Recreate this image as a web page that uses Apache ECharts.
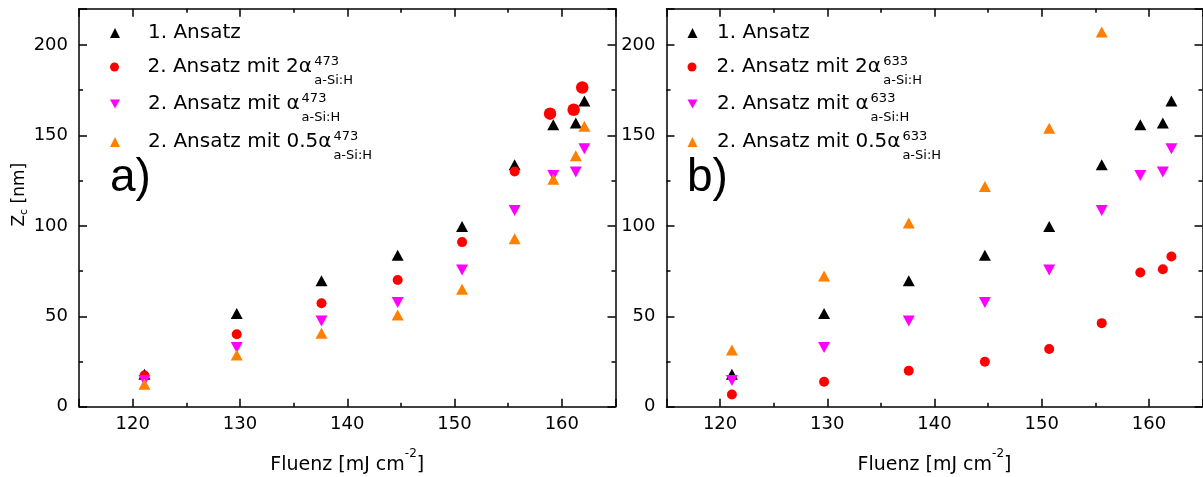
<!DOCTYPE html>
<html><head><meta charset="utf-8">
<script src="https://cdn.jsdelivr.net/npm/echarts@6/dist/echarts.min.js"></script>
<style>html,body{margin:0;padding:0;background:#fff}#c{width:1203px;height:477px}</style>
</head><body><div id="c"></div>
<script>
// ---------- data ----------
const fluenz = [121.1, 129.7, 137.6, 144.7, 150.7, 155.6, 159.2, 161.3, 162.1];
const fluenzRed473 = [121.1, 129.7, 137.6, 144.7, 150.7, 155.6, 158.9, 161.1, 161.9];
const ansatz1 = [18, 51.5, 69.6, 83.7, 99.6, 133.8, 155.9, 156.8, 169];
const alpha1 = [14.5, 32.7, 47.4, 57.6, 75.6, 108.5, 127.8, 129.7, 142.6];
const alpha2_473 = [17.2, 40.1, 57.2, 70.1, 91, 130, 162, 164.2, 176.5];
const alpha05_473 = [12.4, 28.6, 40.6, 50.7, 65, 92.8, 125.8, 138.7, 155];
const alpha2_633 = [6.7, 13.8, 19.9, 24.9, 31.9, 46.2, 74.2, 76, 83];
const alpha05_633 = [31.4, 72.3, 101.5, 121.7, 154, 207.2];
const xTickLabels = [120, 130, 140, 150, 160];
const yTickLabels = [0, 50, 100, 150, 200];
const legendMain = ['1. Ansatz', '2. Ansatz mit 2\u03b1', '2. Ansatz mit \u03b1', '2. Ansatz mit 0.5\u03b1'];
const wavelengths = ['473', '633'];
const subText = 'a-Si:H';
const panelLabels = ['a)', 'b)'];

// ---------- layout / style ----------
const FONT = 'DejaVu Sans';
const colors = ['#000000', '#ff0000', '#ff00ff', '#ff8000'];
const grids = [
  {left: 79, top: 8.8, width: 536.5, height: 397.9, outerBoundsMode: 'none', containLabel: false},
  {left: 666.5, top: 8.8, width: 536, height: 397.9, outerBoundsMode: 'none', containLabel: false}
];
const iconCenter = [115, 692.5];
const textLeft = [148, 717];
const ICON = 10;
const rowY = [33, 67, 104, 142];
const labelX = [110, 687];
const downTriangleIcon = 'path://M0,0L20,0L10,18Z';

const cv = document.createElement('canvas').getContext('2d');
function tw(s, size) { cv.font = size + 'px "' + FONT + '"'; return cv.measureText(s).width; }

function pair(xs, ys) { return ys.map((y, i) => [xs[i], y]); }

const xName = '{m|Fluenz [mJ cm}{s|-2}{m|]}';
const axLine = {show: true, onZero: false, lineStyle: {color: '#000', width: 1.5}};
function xAx(gi, pos) {
  const b = pos === 'bottom';
  return {
    type: 'value', gridIndex: gi, position: pos, min: 115, max: 165, splitNumber: 5,
    axisLine: axLine,
    axisTick: {show: true, inside: true, length: 8, lineStyle: {color: '#000', width: 1.5}},
    minorTick: {show: true, splitNumber: 2, length: 4, lineStyle: {color: '#000', width: 1.5}},
    splitLine: {show: false}, minorSplitLine: {show: false},
    axisLabel: {show: b, margin: 9, color: '#000', fontFamily: FONT, fontSize: 18,
      formatter: v => xTickLabels.includes(Math.round(v * 1000) / 1000) ? String(v) : ''},
    name: b ? xName : '', nameLocation: 'middle', nameGap: 49,
    nameTextStyle: {rich: {
      m: {fontFamily: FONT, fontSize: 19, color: '#000', lineHeight: 19, verticalAlign: 'bottom'},
      s: {fontFamily: FONT, fontSize: 12, color: '#000', lineHeight: 12, padding: [0, 0, 15, 0], verticalAlign: 'bottom'}
    }}
  };
}
function yAx(gi, pos) {
  const l = pos === 'left';
  return {
    type: 'value', gridIndex: gi, position: pos, min: 0, max: 220, splitNumber: 4,
    axisLine: axLine,
    axisTick: {show: true, inside: true, length: 8, lineStyle: {color: '#000', width: 1.5}},
    minorTick: {show: true, splitNumber: 2, length: 4, lineStyle: {color: '#000', width: 1.5}},
    splitLine: {show: false}, minorSplitLine: {show: false},
    axisLabel: {show: l, margin: 11, color: '#000', fontFamily: FONT, fontSize: 18,
      formatter: v => yTickLabels.includes(Math.round(v * 1000) / 1000) ? String(v) : ''},
    name: (l && gi === 0) ? '{z|Z}{c|c}{z| [nm]}' : '', nameLocation: 'middle', nameGap: 48,
    nameTextStyle: {padding: [0, 0, 0, 26], rich: {
      z: {fontFamily: FONT, fontSize: 17, color: '#000', lineHeight: 17, verticalAlign: 'top'},
      c: {fontFamily: FONT, fontSize: 11, color: '#000', lineHeight: 11, padding: [8, 0, 0, 0], verticalAlign: 'top'}
    }}
  };
}

const xAxes = [xAx(0, 'bottom'), xAx(0, 'top'), xAx(1, 'bottom'), xAx(1, 'top')];
const yAxes = [yAx(0, 'left'), yAx(0, 'right'), yAx(1, 'left'), yAx(1, 'right')];

const panelData = [
  [pair(fluenz, ansatz1), pair(fluenzRed473, alpha2_473), pair(fluenz, alpha1), pair(fluenz, alpha05_473)],
  [pair(fluenz, ansatz1), pair(fluenz, alpha2_633), pair(fluenz, alpha1), pair(fluenz, alpha05_633)]
];
function seriesName(pi, ri) {
  return ri === 0 ? legendMain[0] : legendMain[ri] + ' ' + wavelengths[pi] + ' ' + subText;
}
const series = [];
const legends = [];
const graphics = [];
for (let pi = 0; pi < 2; pi++) {
  const legLeft = iconCenter[pi] - ICON / 2;
  const pad = textLeft[pi] - (legLeft + ICON + 5);
  for (let ri = 0; ri < 4; ri++) {
    const isCircle = ri === 1;
    const bigRed = (pi === 0 && ri === 1);
    series.push({
      type: 'scatter', name: seriesName(pi, ri),
      xAxisIndex: pi * 2, yAxisIndex: pi * 2,
      data: panelData[pi][ri],
      symbol: isCircle ? 'circle' : 'triangle',
      symbolRotate: ri === 2 ? 180 : 0,
      symbolSize: isCircle ? (bigRed ? ((v, p) => p.dataIndex >= 6 ? 12.5 : 10) : 10) : [12, 11],
      itemStyle: {color: colors[ri], opacity: 1},
      emphasis: {disabled: true},
      z: 2 + ri
    });
    const legItem = {name: seriesName(pi, ri)};
    if (ri === 2) legItem.icon = downTriangleIcon;
    legends.push({
      data: [legItem], left: legLeft, top: rowY[ri] - 10,
      orient: 'vertical', padding: 0, itemGap: 0,
      itemWidth: ICON, itemHeight: isCircle ? ICON - 1 : ICON,
      selectedMode: false,
      textStyle: {fontFamily: FONT, fontSize: 20, color: '#000',
        rich: {p: {width: pad}, t: {fontFamily: FONT, fontSize: 20, color: '#000'}}},
      formatter: () => '{p|}{t|' + legendMain[ri] + '}'
    });
    if (ri > 0) {
      const x0 = textLeft[pi] + tw(legendMain[ri], 20) + 2;
      graphics.push({type: 'text', left: x0, top: rowY[ri] - 12,
        style: {text: wavelengths[pi], font: '13px "' + FONT + '"', fill: '#000'}});
      graphics.push({type: 'text', left: x0, top: rowY[ri] + 7,
        style: {text: subText, font: '13px "' + FONT + '"', fill: '#000'}});
    }
  }
  graphics.push({type: 'text', left: labelX[pi], top: 155,
    style: {text: panelLabels[pi], font: '46px "Liberation Sans"', fill: '#000'}});
}

const chart = echarts.init(document.getElementById('c'), null, {renderer: 'canvas'});
chart.setOption({
  animation: false,
  backgroundColor: '#fff',
  grid: grids,
  xAxis: xAxes,
  yAxis: yAxes,
  legend: legends,
  series: series,
  graphic: graphics
});
</script>
</body></html>
